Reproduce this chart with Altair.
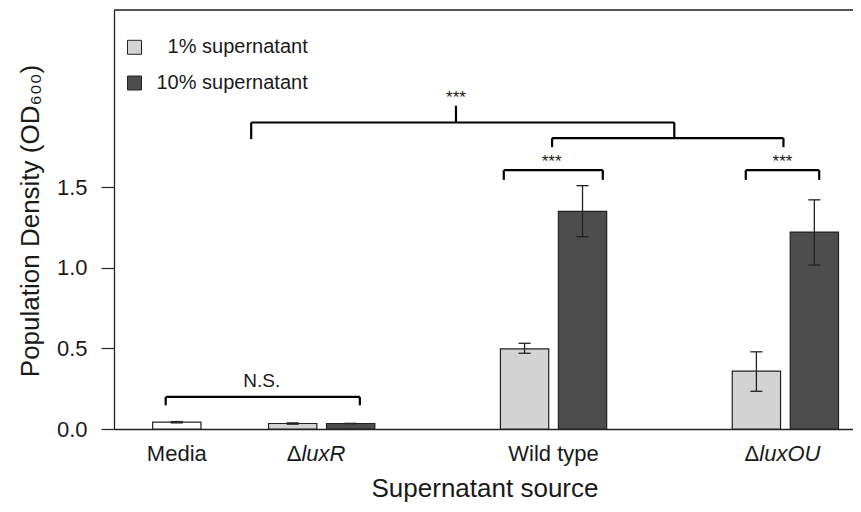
import altair as alt
import pandas as pd

# ---- data -------------------------------------------------------------
source = ["Media", "ΔluxR", "ΔluxR", "Wild type", "Wild type", "ΔluxOU", "ΔluxOU"]
supernatant = ["Media", "1% supernatant", "10% supernatant",
               "1% supernatant", "10% supernatant",
               "1% supernatant", "10% supernatant"]
bar_pos = [1.3, 3.7, 4.9, 8.5, 9.7, 13.3, 14.5]
od600 = [0.043, 0.034, 0.034, 0.497, 1.351, 0.359, 1.222]
err_low = [0.038, 0.030, 0.033, 0.470, 1.193, 0.234, 1.017]
err_high = [0.046, 0.038, 0.035, 0.532, 1.510, 0.479, 1.422]

# significance brackets (segments in data coordinates)
br_x = [1.07, 1.07, 5.09, 8.07, 8.07, 10.12, 13.08, 13.08, 14.60,
        9.07, 9.07, 13.86, 2.84, 2.84, 11.60, 7.08]
br_x2 = [5.09, 1.07, 5.09, 10.12, 8.07, 10.12, 14.60, 13.08, 14.60,
         13.86, 9.07, 13.86, 11.60, 2.84, 11.60, 7.08]
br_y = [0.199, 0.147, 0.147, 1.606, 1.546, 1.546, 1.606, 1.546, 1.546,
        1.805, 1.749, 1.749, 1.902, 1.799, 1.805, 1.902]
br_y2 = [0.199, 0.199, 0.199, 1.606, 1.606, 1.606, 1.606, 1.606, 1.606,
         1.805, 1.805, 1.805, 1.902, 1.902, 1.902, 2.006]

sig_text = ["***", "***", "***"]
sig_x = [7.08, 9.06, 13.84]
sig_y = [2.025, 1.624, 1.624]
ns_text = ["N.S."]
ns_x = [3.06]
ns_y = [0.261]

plain_labels = ["Media", "Wild type"]
plain_x = [1.3, 9.1]
delta_labels = ["luxR", "luxOU"]
delta_x = [3.88, 13.36]

y_ticks = [0.0, 0.5, 1.0, 1.5]
legend_entries = ["1% supernatant", "10% supernatant"]

# ---- chart ------------------------------------------------------------
W, H = 739, 419
FONT = "Liberation Sans"
INK = "#1a1a1a"

xs = alt.Scale(domain=[0, 15.3], nice=False, zero=False)
ys = alt.Scale(domain=[0, 2.6], nice=False)

bars_df = pd.DataFrame({"source": source, "supernatant": supernatant,
                        "pos": bar_pos, "od": od600,
                        "lo": err_low, "hi": err_high})

bars = alt.Chart(bars_df).transform_calculate(
    x0="datum.pos - 0.5", x1="datum.pos + 0.5"
).mark_bar(stroke="#222222", strokeWidth=1.2).encode(
    x=alt.X("x0:Q", scale=xs,
            axis=alt.Axis(labels=False, ticks=False, grid=False, title=None,
                          domainColor="#222222", domainWidth=1.3)),
    x2="x1:Q",
    y=alt.Y("od:Q", scale=ys,
            axis=alt.Axis(values=y_ticks, format=".1f", tickSize=13,
                          tickColor="#222222", tickWidth=1.2,
                          domainColor="#222222", domainWidth=1.3,
                          labelFontSize=22, labelFont=FONT, labelColor=INK,
                          labelPadding=14, grid=False, title=None)),
    y2=alt.datum(0),
    fill=alt.Fill("supernatant:N",
                  scale=alt.Scale(domain=["1% supernatant", "10% supernatant", "Media"],
                                  range=["#d3d3d3", "#4d4d4d", "#ffffff"]),
                  legend=alt.Legend(values=legend_entries, title=None,
                                    orient="none", legendX=10.5, legendY=27.3,
                                    symbolType="square", symbolSize=196,
                                    symbolStrokeColor="#222222", symbolStrokeWidth=1,
                                    symbolOpacity=1,
                                    labelFontSize=20, labelFont=FONT,
                                    labelColor=INK, labelOffset=12, labelLimit=300,
                                    rowPadding=15.7, padding=0,
                                    labelExpr="(datum.value == '1% supernatant' ? '\u200b\u00a0\u00a0' : '') + datum.label")),
)

err = alt.Chart(bars_df).mark_rule(color="#222222", strokeWidth=1.3).encode(
    x=alt.X("pos:Q", scale=xs), y=alt.Y("lo:Q", scale=ys), y2="hi:Q")

cap_base = alt.Chart(bars_df).transform_calculate(
    c0="datum.pos - 0.125", c1="datum.pos + 0.125")
cap_lo = cap_base.mark_rule(color="#222222", strokeWidth=1.3).encode(
    x=alt.X("c0:Q", scale=xs), x2="c1:Q", y=alt.Y("lo:Q", scale=ys))
cap_hi = cap_base.mark_rule(color="#222222", strokeWidth=1.3).encode(
    x=alt.X("c0:Q", scale=xs), x2="c1:Q", y=alt.Y("hi:Q", scale=ys))

br_df = pd.DataFrame({"x": br_x, "x2": br_x2, "y": br_y, "y2": br_y2})
brackets = alt.Chart(br_df).mark_rule(color="#000000", strokeWidth=2.2).encode(
    x=alt.X("x:Q", scale=xs), x2="x2:Q",
    y=alt.Y("y:Q", scale=ys), y2="y2:Q")

sig = alt.Chart(pd.DataFrame({"t": sig_text, "x": sig_x, "y": sig_y})).mark_text(
    fontSize=17, font=FONT, color=INK, align="center", baseline="alphabetic"
).encode(x=alt.X("x:Q", scale=xs), y=alt.Y("y:Q", scale=ys), text="t:N")

ns = alt.Chart(pd.DataFrame({"t": ns_text, "x": ns_x, "y": ns_y})).mark_text(
    fontSize=19, font=FONT, color=INK, align="center", baseline="alphabetic"
).encode(x=alt.X("x:Q", scale=xs), y=alt.Y("y:Q", scale=ys), text="t:N")

top_frame = alt.Chart(pd.DataFrame({"a": [0]})).mark_rule(
    color="#222222", strokeWidth=1.3
).encode(x=alt.datum(0, scale=xs), x2=alt.datum(15.3), y=alt.datum(2.6, scale=ys))

plain = alt.Chart(pd.DataFrame({"t": plain_labels, "x": plain_x})).mark_text(
    fontSize=22, font=FONT, color=INK, align="center", baseline="alphabetic"
).encode(x=alt.X("x:Q", scale=xs), y=alt.value(451), text="t:N")

delta_sym = alt.Chart(pd.DataFrame({"t": ["Δ"] * len(delta_x), "x": delta_x})).mark_text(
    fontSize=22, font=FONT, color=INK, align="right", baseline="alphabetic"
).encode(x=alt.X("x:Q", scale=xs), y=alt.value(451), text="t:N")

delta_name = alt.Chart(pd.DataFrame({"t": delta_labels, "x": delta_x})).mark_text(
    fontSize=22, font=FONT, color=INK, align="left", baseline="alphabetic",
    fontStyle="italic"
).encode(x=alt.X("x:Q", scale=xs), y=alt.value(451), text="t:N")

x_title = alt.Chart(pd.DataFrame({"t": ["Supernatant source"]})).mark_text(
    fontSize=26, font=FONT, color=INK, align="center", baseline="alphabetic"
).encode(x=alt.value(371), y=alt.value(487), text="t:N")

y_title = alt.Chart(pd.DataFrame({"t": ["Population Density (OD₆₀₀)"]})).mark_text(
    fontSize=26, font=FONT, color=INK, align="center", baseline="alphabetic",
    angle=270
).encode(x=alt.value(-75), y=alt.value(211), text="t:N")

chart = alt.layer(
    bars, err, cap_lo, cap_hi, brackets, sig, ns, top_frame,
    plain, delta_sym, delta_name, x_title, y_title
).properties(
    width=W, height=H,
    autosize=alt.AutoSizeParams(type="none"),
    padding={"left": 106, "top": 2, "right": 0, "bottom": 75},
).configure_view(stroke=None).configure(background="white")

chart.save("out.html", embed_options={"renderer": "svg", "actions": False})
